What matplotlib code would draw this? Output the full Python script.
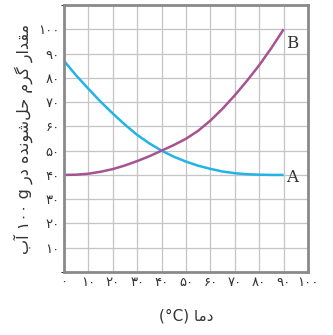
import matplotlib
matplotlib.use("Agg")
import matplotlib.pyplot as plt

plt.rcParams['font.family'] = ['DejaVu Sans']

# temperature (C) and solubility (g per 100 g water)
temps = [0, 5, 10, 15, 20, 25, 30, 35, 40, 45, 50, 55, 60, 65, 70, 75, 80, 85, 90]
sol_A = [87, 81, 75.5, 70.2, 65.3, 60.7, 56.5, 53, 50, 47.5, 45.5, 43.8,
         42.5, 41.4, 40.7, 40.3, 40.1, 40, 40]
sol_B = [40, 40.1, 40.5, 41.3, 42.4, 43.9, 45.7, 47.7, 50, 52.3, 54.9, 58.2,
         62.4, 67.3, 72.8, 78.8, 85.2, 92.3, 100]

fa = "۰۱۲۳۴۵۶۷۸۹"


def fa_num(n):
    return "".join(fa[int(c)] for c in str(n))


x_ticks = list(range(0, 101, 10))
y_ticks = list(range(10, 101, 10))

# Persian text written in visual order with presentation forms
ylab = ("\uFE8F\uFE81 " + fa_num(100) + " g \uFEAD\uFEA9 "
        "\uFEE9\uFEAA\uFEE7\uFEEE\uFEB7\uFEDE\uFEA3 "
        "\uFEE1\uFEAE\uFB94 \uFEAD\uFE8D\uFEAA\uFED8\uFEE3")
xlab = "(°C) \uFE8E\uFEE3\uFEA9"

fig = plt.figure(figsize=(3.33, 3.35), dpi=100)
ax = fig.add_axes([0.192, 0.188, 0.733, 0.797])

ax.plot(temps, sol_A, color="#22b4e6", lw=1.8, solid_capstyle="butt")
ax.plot(temps, sol_B, color="#a65393", lw=1.8, solid_capstyle="butt")

ax.text(93.5, 39, "A", family="DejaVu Serif", fontsize=12, color="#333333",
        ha="center", va="center")
ax.text(93.5, 94, "B", family="DejaVu Serif", fontsize=12, color="#333333",
        ha="center", va="center")

ax.set_xlim(0, 100)
ax.set_ylim(0, 110)
ax.set_xticks(x_ticks)
ax.set_yticks(y_ticks)
ax.set_xticklabels([fa_num(t) for t in x_ticks], fontsize=9.5)
ax.set_yticklabels([fa_num(t) for t in y_ticks], fontsize=9.5)
ax.set_yticks(range(0, 111, 10), minor=True)
ax.tick_params(length=0, pad=3, colors="#333333")
ax.grid(True, which="both", color="#c4c4c4", lw=0.9)
ax.set_axisbelow(True)
for s in ax.spines.values():
    s.set_color("#8a8a8a")
    s.set_linewidth(2)

ax.set_ylabel(ylab, fontsize=11.5, color="#333333", labelpad=4)
ax.set_xlabel(xlab, fontsize=11, color="#333333", labelpad=14)

fig.savefig("out.png", dpi=100, facecolor="white")
